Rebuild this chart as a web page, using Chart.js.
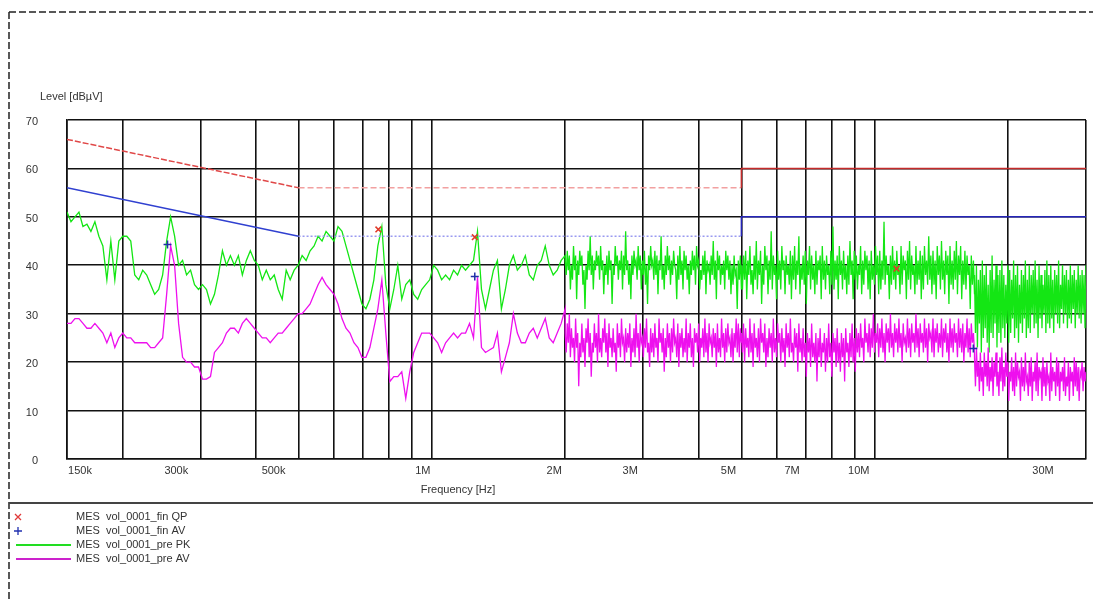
<!DOCTYPE html>
<html>
<head>
<meta charset="utf-8">
<script src="https://cdn.jsdelivr.net/npm/chart.js@4"></script>
<style>
  html, body { margin: 0; padding: 0; background: #fff; }
  #wrap { width: 1093px; height: 600px; }
</style>
</head>
<body>
<div id="wrap"><canvas id="chart"></canvas></div>
<script>
// grid lines of the frequency axis (Hz)
const freqGrid = [150e3, 200e3, 300e3, 400e3, 500e3, 600e3, 700e3, 800e3, 900e3,
  1e6, 2e6, 3e6, 4e6, 5e6, 6e6, 7e6, 8e6, 9e6, 10e6, 20e6, 30e6];
const xLabelFreqs = [150e3, 300e3, 500e3, 1e6, 2e6, 3e6, 5e6, 7e6, 10e6, 30e6];
const xLabelText = ['150k', '300k', '500k', '1M', '2M', '3M', '5M', '7M', '10M', '30M'];
const yTicks = [0, 10, 20, 30, 40, 50, 60, 70];

// limit lines
const qpLimitFreq = [150e3, 500e3, 5e6, 5e6, 30e6];
const qpLimitLevel = [66, 56, 56, 60, 60];
const avLimitFreq = [150e3, 500e3, 5e6, 5e6, 30e6];
const avLimitLevel = [56, 46, 46, 50, 50];

// final measurements
const qpFinFreq = [757e3, 1.25e6, 11.2e6];
const qpFinLevel = [47.4, 45.8, 39.3];
const avFinFreq = [253e3, 1.25e6, 16.7e6];
const avFinLevel = [44.3, 37.7, 22.8];

// pre-scan sweep bands (Hz); each band's readings are spread over it on a log sweep
const bandA = [150e3, 2e6];
const bandB = [2e6, 5e6];
const bandC = [5e6, 16.8e6];
const bandD = [16.8e6, 30e6];

const pkA = [51,49,50,51,48,48.5,47,49,46,44,37,45,37,45,46,46,45,38,37,39,38,36,34,35,38,45,50,46,40,41,38,39,36,35,36,35,32,34,38,43,40,42,40,42,38,41,43,41,40,37,39,37,38,35,33,39,37,39,40,42,41,43,44,46,45,47,46,45,48,47,44,41,38,35,32,31,33,37,44,48,36,31,35,40,33,36,37,34,33,35,36,37,40,39,37,38,37,39,38,40,39,40,41,47,35,31,35,39,41,31,35,40,42,39,40,42,38,37,40,41,44,40,38,39,41,42];
const pkB = [
  41,38,43,39,42,35,40,37,44,39, 42,33,41,38,43,40,42,36,39,31,
  40,37,43,39,46,38,42,35,41,39, 43,40,42,37,44,39,41,34,40,38,
  42,36,43,39,41,32,40,38,44,40, 42,37,41,39,43,35,42,38,47,39,
  41,36,40,33,42,38,43,40,41,37, 44,39,42,35,41,38,43,36,40,32,
  42,39,44,40,41,37,43,38,42,34, 41,39,46,37,40,35,42,38,44,39,
  42,36,41,38,43,40,39,33,42,37, 44,38,41,35,43,39,42,37,40,34,
  41,38,43,39,42,36,44,40,41,35, 39,37,42,38,43,34,41,39,40,36,
  42,38,45,37,41,33,43,39,42,36, 40,38,41,35,43,39,42,37,41,34,
  40,36,42,38,39,31,41,37,42,35];
const pkC = [
  40,35,42,37,43,33,41,38,44,36, 39,34,42,37,45,35,41,38,43,32,
  40,36,44,39,42,34,41,37,47,35, 42,38,40,33,43,37,41,35,44,39,
  41,34,42,38,40,36,43,33,42,37, 44,35,41,38,46,34,40,37,42,36,
  43,32,41,38,44,35,42,37,40,34, 43,36,41,39,42,33,44,37,41,35,
  42,38,40,34,43,36,48,35,41,37, 42,33,44,38,41,35,43,37,40,34,
  42,36,45,38,41,33,43,37,42,35, 40,38,44,34,41,36,43,39,42,35,
  41,33,43,37,40,36,44,38,42,34, 43,35,41,37,49,36,42,38,40,33,
  42,36,44,37,41,35,43,38,40,34, 44,36,42,39,41,33,43,37,45,35,
  42,38,40,34,44,36,41,37,43,33, 42,35,44,38,41,36,46,37,42,34,
  43,36,41,33,44,38,42,35,45,37, 41,34,43,38,42,32,44,36,41,35,
  43,37,45,34,42,38,44,33,41,36, 43,35,42,38,40,31,42,36,41,34];
const pkD = [
  38,26,40,23,37,28,39,22,41,25, 38,27,40,24,36,22,39,26,42,25,
  37,28,40,23,38,26,39,24,41,27, 38,25,36,28,40,24,39,26,37,29,
  41,25,38,27,40,24,36,28,39,26, 38,29,41,25,37,27,40,26,38,30,
  39,27,41,28,37,25,40,29,38,27, 36,30,39,26,41,28,38,27,40,29,
  37,26,39,30,38,28,41,27,36,31, 40,28,38,30,39,27,37,29,40,28,
  38,31,39,27,37,30,40,29,38,28, 39,30,38,27,40];

const avA = [28,28,29,29,28,27,27,28,27,26,24,26,23,25,26,25,25,24,24,24,24,23,23,24,25,34,44,40,28,21,20,20,19,19,16.5,16.5,17,22,23,24,26,27,27,26,28,29,28,27,26,25,25,24,25,26,26,27,28,29,30,30,31,32,34,36,37.5,36,35,34,32,29,27,26,24,23,21,21,23,27,31,37,26,16,17,17,18,12.5,18,22,24,26,26,26,25,24,22,24,25,26,25,26,26,28,25,37.5,23,22,22.5,23,26,18,21,24,30,26,24,24,26,27,25,27,29,25,24,26,28,31];
const avB = [
  26,22,28,24,30,21,27,23,25,20, 29,23,26,15,24,21,28,22,25,19,
  27,24,29,21,26,17,24,22,28,23, 26,20,30,22,25,21,27,24,29,22,
  26,19,28,23,25,21,27,22,24,18, 28,23,26,21,29,24,25,20,27,22,
  26,23,28,19,25,22,27,21,30,23, 26,20,28,24,25,21,27,23,29,22,
  24,19,27,22,26,21,28,23,25,20, 29,24,26,22,27,18,25,21,28,23,
  26,20,27,22,29,24,25,21,28,19, 26,23,27,21,25,22,29,20,26,23,
  28,21,25,19,27,24,26,22,28,20, 25,23,27,21,29,22,26,20,28,24,
  25,21,27,23,26,19,28,22,25,21, 29,23,26,20,27,22,28,24,25,21,
  27,20,26,23,29,22,28,21,27,24];
const avC = [
  26,22,28,20,27,23,25,21,29,22, 26,19,28,23,25,21,27,20,29,24,
  26,22,28,19,25,21,27,23,26,20, 29,22,25,21,28,24,26,20,27,22,
  25,19,28,23,26,21,29,22,24,20, 27,23,26,18,28,22,25,20,27,21,
  24,17,26,22,25,19,28,21,24,20, 26,16,25,21,27,19,24,22,26,18,
  25,20,28,21,24,17,26,22,25,19, 27,20,24,18,26,21,25,16,27,22,
  24,19,26,21,28,20,25,18,27,22, 26,21,28,23,25,20,29,24,26,22,
  28,21,27,23,30,22,26,24,28,21, 27,23,29,22,26,20,28,24,27,22,
  30,23,26,21,28,24,27,22,29,23, 26,20,28,24,25,22,29,23,27,21,
  28,24,26,22,30,23,27,21,28,24, 26,22,29,23,27,20,28,25,26,22,
  29,21,27,24,28,22,26,23,29,21, 27,24,28,22,26,20,29,23,27,22,
  28,24,26,21,29,23,27,22,28,20, 26,23,29,22,27,21,28,24,26,22];
const avD = [
  21,15,23,17,20,14,22,16,19,13, 22,17,20,15,23,14,19,16,21,13,
  20,17,22,15,18,13,21,16,23,14, 19,15,22,17,20,12,18,16,21,14,
  19,13,22,15,20,17,18,12,21,15, 19,14,22,16,17,13,20,15,21,12,
  18,16,20,14,22,13,19,17,18,12, 21,15,19,13,20,16,17,12,22,14,
  19,16,18,13,21,15,20,12,18,16, 19,14,21,13,17,15,20,12,19,16,
  18,13,21,15,20,14,19,12,18,17, 20,14,19,16,18];

function sweep(band, levels) {
  const n = levels.length;
  return levels.map((y, i) => ({ x: band[0] * Math.pow(band[1] / band[0], i / (n - 1)), y }));
}
function pairs(fs, ls) {
  return fs.map((f, i) => ({ x: f, y: ls[i] }));
}

const pkData = [...sweep(bandA, pkA), ...sweep(bandB, pkB), ...sweep(bandC, pkC), ...sweep(bandD, pkD)];
const avData = [...sweep(bandA, avA), ...sweep(bandB, avB), ...sweep(bandC, avC), ...sweep(bandD, avD)];

const FONT = '11px "Liberation Sans", Arial, sans-serif';
const xLabelShift = [13, -24, -25, -9, -11, -13, -13, -14, -16, -43];

const decorations = {
  id: 'decorations',
  afterDraw(chart) {
    const { ctx, scales: { x, y } } = chart;
    ctx.save();

    // dashed page frame
    ctx.strokeStyle = '#222';
    ctx.lineWidth = 1.5;
    ctx.setLineDash([7, 3]);
    ctx.beginPath();
    ctx.moveTo(9, 12); ctx.lineTo(1093, 12);
    ctx.moveTo(9, 12); ctx.lineTo(9, 600);
    ctx.stroke();
    ctx.setLineDash([]);

    // legend separator
    ctx.strokeStyle = '#444';
    ctx.lineWidth = 2;
    ctx.beginPath();
    ctx.moveTo(9, 503); ctx.lineTo(1093, 503);
    ctx.stroke();

    ctx.font = FONT;
    ctx.fillStyle = '#333';

    // y tick labels
    ctx.textAlign = 'right';
    ctx.textBaseline = 'middle';
    yTicks.forEach(v => ctx.fillText(String(v), 38, y.getPixelForValue(v) + 2));

    // x tick labels
    ctx.textAlign = 'center';
    xLabelFreqs.forEach((f, i) => {
      ctx.fillText(xLabelText[i], x.getPixelForValue(f) + xLabelShift[i], 471);
    });

    // axis titles
    ctx.textAlign = 'left';
    ctx.fillText('Level [dBµV]', 40, 97);
    ctx.textAlign = 'center';
    ctx.fillText('Frequency [Hz]', 458, 490);

    // legend
    const rows = [517, 531, 545, 559];
    const names = ['MES  vol_0001_fin QP', 'MES  vol_0001_fin AV', 'MES  vol_0001_pre PK', 'MES  vol_0001_pre AV'];
    ctx.textAlign = 'left';
    names.forEach((t, i) => ctx.fillText(t, 76, rows[i]));

    ctx.lineWidth = 1.3;
    ctx.strokeStyle = '#e03a3a';
    ctx.beginPath();
    ctx.moveTo(15, rows[0] - 3); ctx.lineTo(21, rows[0] + 3);
    ctx.moveTo(21, rows[0] - 3); ctx.lineTo(15, rows[0] + 3);
    ctx.stroke();
    ctx.strokeStyle = '#2030b0';
    ctx.beginPath();
    ctx.moveTo(14, rows[1]); ctx.lineTo(22, rows[1]);
    ctx.moveTo(18, rows[1] - 4); ctx.lineTo(18, rows[1] + 4);
    ctx.stroke();
    ctx.lineWidth = 2;
    ctx.strokeStyle = '#22dd22';
    ctx.beginPath(); ctx.moveTo(16, rows[2]); ctx.lineTo(71, rows[2]); ctx.stroke();
    ctx.strokeStyle = '#cc22cc';
    ctx.beginPath(); ctx.moveTo(16, rows[3]); ctx.lineTo(71, rows[3]); ctx.stroke();

    ctx.restore();
  }
};

// per-segment look of the limit lines
function limitSegment(colors, dashes) {
  return {
    borderColor: c => colors[Math.min(c.p0DataIndex, colors.length - 1)],
    borderDash: c => dashes[Math.min(c.p0DataIndex, dashes.length - 1)]
  };
}

new Chart(document.getElementById('chart'), {
  type: 'line',
  data: {
    datasets: [
      {
        label: 'QP final',
        data: pairs(qpFinFreq, qpFinLevel),
        showLine: false,
        pointStyle: 'crossRot',
        pointRadius: 4,
        borderColor: '#e03a2a',
        borderWidth: 1.5,
        order: 0
      },
      {
        label: 'AV final',
        data: pairs(avFinFreq, avFinLevel),
        showLine: false,
        pointStyle: 'cross',
        pointRadius: 4,
        borderColor: '#1f2fa8',
        borderWidth: 1.5,
        order: 0
      },
      {
        label: 'QP limit',
        data: pairs(qpLimitFreq, qpLimitLevel),
        borderWidth: 1.5,
        pointRadius: 0,
        borderColor: '#c02525',
        segment: limitSegment(['#e04848', '#f2a0a0', '#c42a2a', '#c42a2a'], [[6, 2], [6, 3], [], []]),
        order: 1
      },
      {
        label: 'AV limit',
        data: pairs(avLimitFreq, avLimitLevel),
        borderWidth: 1.5,
        pointRadius: 0,
        borderColor: '#2020c0',
        segment: limitSegment(['#3040d0', '#9a9af0', '#2424b8', '#2424b8'], [[], [2, 2], [], []]),
        order: 1
      },
      {
        label: 'pre AV',
        data: avData,
        borderColor: '#ee10ee',
        borderWidth: 1.3,
        pointRadius: 0,
        order: 2
      },
      {
        label: 'pre PK',
        data: pkData,
        borderColor: '#14e614',
        borderWidth: 1.3,
        pointRadius: 0,
        order: 3
      }
    ]
  },
  options: {
    responsive: true,
    maintainAspectRatio: false,
    animation: false,
    layout: { padding: { left: 67, right: 7, top: 120, bottom: 141 } },
    plugins: { legend: { display: false }, tooltip: { enabled: false } },
    scales: {
      x: {
        type: 'logarithmic',
        min: 150e3,
        max: 30e6,
        z: 1,
        afterBuildTicks: s => { s.ticks = freqGrid.map(v => ({ value: v })); },
        ticks: { display: false },
        grid: { color: '#111', lineWidth: 1.6, drawTicks: false },
        border: { color: '#111', width: 1.6 }
      },
      y: {
        min: 0,
        max: 70,
        z: 1,
        ticks: { display: false, stepSize: 10 },
        grid: { color: '#111', lineWidth: 1.6, drawTicks: false },
        border: { color: '#111', width: 1.6 }
      }
    }
  },
  plugins: [decorations]
});
</script>
</body>
</html>
